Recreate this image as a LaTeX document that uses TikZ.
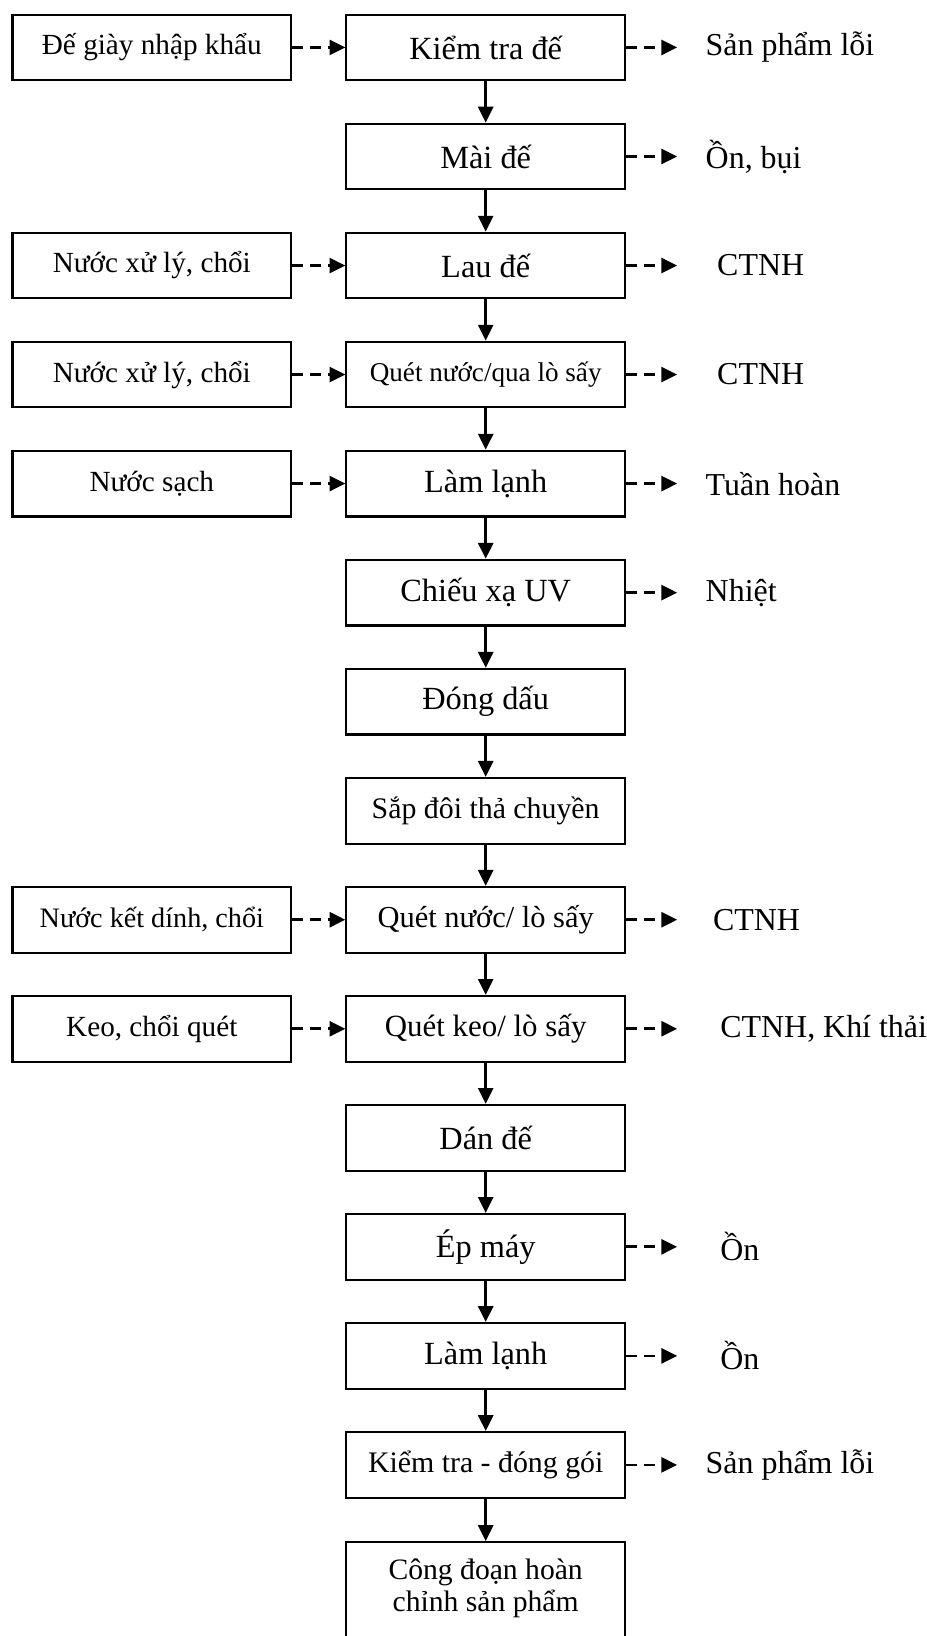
\documentclass[tikz,border=0pt]{standalone}
\usepackage{fontspec}
\setmainfont{Liberation Serif}
\usetikzlibrary{arrows.meta}
\begin{document}
\begin{tikzpicture}[x=0.5pt,y=-0.5pt,
  stepbox/.style={draw, line width=1pt, minimum width=133.5pt, minimum height=31.5pt,
    inner sep=0pt, align=center, font=\fontsize{15.5}{18}\selectfont},
  srcbox/.style={stepbox, font=\fontsize{14}{17}\selectfont},
  midfont/.style={font=\fontsize{14.3}{17}\selectfont},
  smallfont/.style={font=\fontsize{13}{16}\selectfont},
  outtext/.style={anchor=west, inner sep=0pt, font=\fontsize{15.3}{18}\selectfont},
  flow/.style={line width=1.3pt, -{Triangle[length=7.6pt,width=7.2pt]}},
  side/.style={flow, dash pattern=on 5.2pt off 3.4pt},
]
\useasboundingbox (0,0) rectangle (888,1568);

% main process column
\node[stepbox] (m0) at (465.5,45.5) {Kiểm tra đế};
\node[stepbox] (m1) at (465.5,150) {Mài đế};
\node[stepbox] (m2) at (465.5,254.5) {Lau đế};
\node[stepbox, smallfont] (m3) at (465.5,359) {Quét nước/qua lò sấy};
\node[stepbox] (m4) at (465.5,463.5) {Làm lạnh};
\node[stepbox] (m5) at (465.5,568) {Chiếu xạ UV};
\node[stepbox] (m6) at (465.5,672.5) {Đóng dấu};
\node[stepbox, midfont] (m7) at (465.5,777) {Sắp đôi thả chuyền};
\node[stepbox, font=\fontsize{14.6}{17}\selectfont] (m8) at (465.5,881.5) {Quét nước/ lò sấy};
\node[stepbox, font=\fontsize{14.8}{17}\selectfont] (m9) at (465.5,986) {Quét keo/ lò sấy};
\node[stepbox] (m10) at (465.5,1090.5) {Dán đế};
\node[stepbox] (m11) at (465.5,1195) {Ép máy};
\node[stepbox] (m12) at (465.5,1299.5) {Làm lạnh};
\node[stepbox, midfont] (m13) at (465.5,1404) {Kiểm tra - đóng gói};
\node[stepbox, anchor=north, minimum height=55pt] (m14) at (465.5,1477) {};
\node[inner sep=0pt, align=center, font=\fontsize{14.2}{15.2}\selectfont] (m14t) at (465.5,1522)
  {Công đoạn hoàn\\chỉnh sản phẩm};

% main flow
\foreach \a/\b in {m0/m1,m1/m2,m2/m3,m3/m4,m4/m5,m5/m6,m6/m7,m7/m8,m8/m9,m9/m10,m10/m11,m11/m12,m12/m13,m13/m14}
  \draw[flow] (\a) -- (\b);

% inputs
\node[srcbox] (i0) at (145.5,45.5) {Đế giày nhập khẩu};
\node[srcbox] (i2) at (145.5,254.5) {Nước xử lý, chổi};
\node[srcbox] (i3) at (145.5,359) {Nước xử lý, chổi};
\node[srcbox] (i4) at (145.5,463.5) {Nước sạch};
\node[srcbox, font=\fontsize{13.5}{16}\selectfont] (i8) at (145.5,881.5) {Nước kết dính, chổi};
\node[srcbox] (i9) at (145.5,986) {Keo, chổi quét};
\foreach \n in {0,2,3,4,8,9}
  \draw[side] (i\n) -- (m\n);

% outputs
\foreach \n/\y in {0/45.5,1/150,2/254.5,3/359,4/463.5,5/568,8/881.5,9/986,11/1195,12/1299.5,13/1404} {
  \coordinate (o\n) at (649,\y);
  \draw[side] (m\n.east) -- (o\n);
}
\node[outtext] (t0) at (676,45.5) {Sản phẩm lỗi};
\node[outtext] (t1) at (676,150) {Ồn, bụi};
\node[outtext] (t2) at (687,254.5) {CTNH};
\node[outtext] (t3) at (687,359) {CTNH};
\node[outtext] (t4) at (676,463.5) {Tuần hoàn};
\node[outtext] (t5) at (676,568) {Nhiệt};
\node[outtext] (t8) at (683,881.5) {CTNH};
\node[outtext] (t9) at (690,986) {CTNH, Khí thải};
\node[outtext] (t11) at (690,1195) {Ồn};
\node[outtext] (t12) at (690,1299.5) {Ồn};
\node[outtext] (t13) at (676,1404) {Sản phẩm lỗi};
\end{tikzpicture}
\end{document}
